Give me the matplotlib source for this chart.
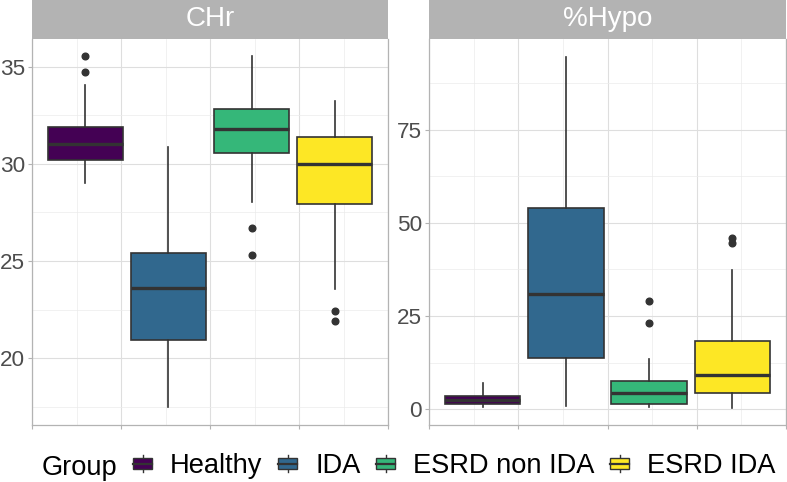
import matplotlib
matplotlib.use("Agg")
import matplotlib.pyplot as plt
from matplotlib.patches import Rectangle, Patch
from matplotlib.lines import Line2D
from matplotlib.legend_handler import HandlerBase
from matplotlib.ticker import FixedLocator, NullFormatter

plt.rcParams['font.family'] = ['Liberation Sans', 'DejaVu Sans']

# groups and colours (viridis, 4 levels)
groups = ["Healthy", "IDA", "ESRD non IDA", "ESRD IDA"]
colors = ["#440154", "#31688E", "#35B779", "#FDE725"]

# CHr box statistics
chr_lo = [29.0, 17.5, 28.05, 23.55]
chr_q1 = [30.2, 20.95, 30.55, 27.95]
chr_med = [31.05, 23.6, 31.8, 30.0]
chr_q3 = [31.9, 25.4, 32.85, 31.4]
chr_hi = [34.05, 30.9, 35.55, 33.25]
chr_out = [[34.75, 35.55], [], [26.7, 25.3], [22.45, 21.9]]

# %Hypo box statistics
hypo_lo = [0.45, 0.9, 0.45, 0.2]
hypo_q1 = [1.3, 13.8, 1.25, 4.4]
hypo_med = [2.4, 30.8, 4.2, 9.1]
hypo_q3 = [3.6, 53.9, 7.5, 18.3]
hypo_hi = [6.9, 94.7, 13.4, 37.4]
hypo_out = [[], [], [29.1, 23.1], [46.1, 44.6]]

panels = [
    ("CHr", chr_lo, chr_q1, chr_med, chr_q3, chr_hi, chr_out,
     (16.55, 36.44), [20, 25, 30, 35], [17.5, 22.5, 27.5, 32.5]),
    ("%Hypo", hypo_lo, hypo_q1, hypo_med, hypo_q3, hypo_hi, hypo_out,
     (-4.3, 99.46), [0, 25, 50, 75], [12.5, 37.5, 62.5, 87.5]),
]

positions = [-1.4, -0.467, 0.467, 1.4]
edge = "#333333"
grid_major = "#DEDEDE"
grid_minor = "#EBEBEB"
border = "#B3B3B3"

fig = plt.figure(figsize=(7.87, 4.82), dpi=100)
W, H = 787, 482
axes_px = [(32, 388), (429, 786)]
top_px, bot_px = 39, 425

for (name, lo, q1, med, q3, hi, out, ylim, yt, ymt), (x0, x1) in zip(panels, axes_px):
    ax = fig.add_axes([x0 / W, (H - bot_px) / H, (x1 - x0) / W, (bot_px - top_px) / H])
    stats = []
    for i in range(len(groups)):
        stats.append(dict(whislo=lo[i], q1=q1[i], med=med[i], q3=q3[i],
                          whishi=hi[i], fliers=out[i]))
    bp = ax.bxp(stats, positions=positions, widths=0.85, patch_artist=True,
                showcaps=False, manage_ticks=False,
                boxprops=dict(edgecolor=edge, linewidth=1.2),
                whiskerprops=dict(color=edge, linewidth=1.2),
                medianprops=dict(color=edge, linewidth=2.4),
                flierprops=dict(marker='o', markerfacecolor=edge,
                                markeredgecolor=edge, markersize=4.8))
    for patch, c in zip(bp['boxes'], colors):
        patch.set_facecolor(c)
    ax.set_xlim(-2, 2)
    ax.set_ylim(*ylim)
    ax.xaxis.set_major_locator(FixedLocator([-2, -1, 0, 1, 2]))
    ax.xaxis.set_minor_locator(FixedLocator([-1.5, -0.5, 0.5, 1.5]))
    ax.xaxis.set_major_formatter(NullFormatter())
    ax.yaxis.set_major_locator(FixedLocator(yt))
    ax.yaxis.set_minor_locator(FixedLocator(ymt))
    ax.set_axisbelow(True)
    ax.grid(True, which='major', color=grid_major, linewidth=0.8)
    ax.grid(True, which='minor', color=grid_minor, linewidth=0.5)
    ax.tick_params(which='major', length=2.9, width=0.8, color=border,
                   labelsize=16.2, labelcolor="#4D4D4D", pad=2.2)
    ax.tick_params(which='minor', length=0)
    for s in ax.spines.values():
        s.set_color(border)
        s.set_linewidth(0.9)
    ax.spines['top'].set_visible(False)
    # facet strip
    sh = (top_px) / (bot_px - top_px)
    ax.add_patch(Rectangle((0, 1), 1, sh, transform=ax.transAxes,
                           facecolor=border, edgecolor='none', clip_on=False))
    ax.text(0.5, 1 + sh / 2, name, transform=ax.transAxes, ha='center',
            va='center', color='white', fontsize=20)


class BoxKey(HandlerBase):
    def create_artists(self, legend, orig_handle, xdescent, ydescent,
                       width, height, fontsize, trans):
        x0, y0 = -xdescent, -ydescent
        face = orig_handle.get_facecolor()
        cx = x0 + 0.5 * width
        wt = Line2D([cx, cx], [y0 + 0.75 * height, y0 + 0.9 * height],
                    color=edge, lw=1.0, transform=trans)
        wb = Line2D([cx, cx], [y0 + 0.1 * height, y0 + 0.25 * height],
                    color=edge, lw=1.0, transform=trans)
        rect = Rectangle((x0 + 0.1 * width, y0 + 0.25 * height),
                         0.8 * width, 0.5 * height, facecolor=face,
                         edgecolor=edge, lw=1.0, transform=trans)
        med = Line2D([x0 + 0.1 * width, x0 + 0.9 * width],
                     [y0 + 0.5 * height] * 2, color=edge, lw=1.6,
                     transform=trans)
        return [wt, wb, rect, med]


handles = [Patch(facecolor=c) for c in colors]
fig.text(42 / W, (H - 475) / H, "Group", fontsize=19.6, ha='left',
         va='baseline')
fig.legend(handles, groups, handler_map={Patch: BoxKey()}, ncol=4,
           loc='center left', bbox_to_anchor=(131 / W, (H - 466) / H),
           frameon=False, fontsize=19.6, handlelength=0.846,
           handleheight=0.846, handletextpad=0.59, columnspacing=0.5,
           borderpad=0, borderaxespad=0)

fig.savefig("out.png", dpi=100)
